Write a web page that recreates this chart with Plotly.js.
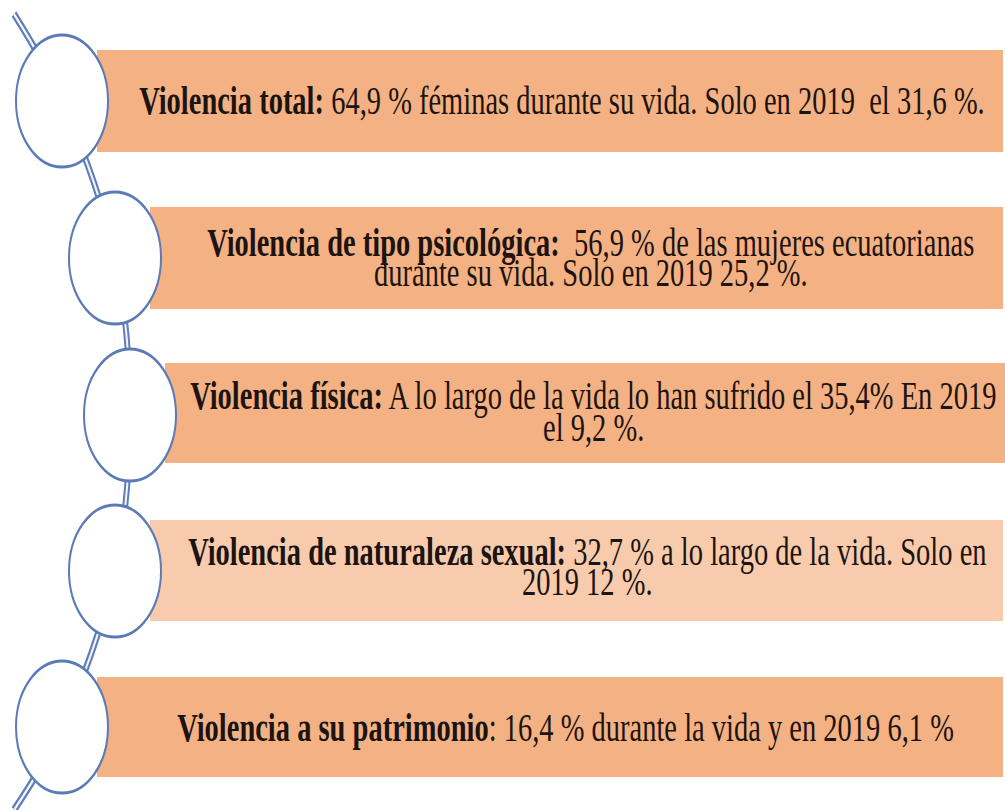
<!DOCTYPE html>
<html>
<head>
<meta charset="utf-8">
<script src="https://cdn.plot.ly/plotly-3.0.1.min.js"></script>
<style>
  html { margin: 0; padding: 0; overflow: hidden; background: #ffffff; }
  body { margin: 0; padding: 0; width: 1005px; height: 810px; background: #ffffff; }
  #chart { width: 1005px; height: 566px; transform: scaleY(1.4311); transform-origin: 0 0; }
</style>
</head>
<body>
<div id="chart"></div>
<script>
// ---- data ----
const categories = [
  'Violencia total',
  'Violencia de tipo psicológica',
  'Violencia física',
  'Violencia de naturaleza sexual',
  'Violencia a su patrimonio'
];
const lifetimePct = [64.9, 56.9, 35.4, 32.7, 16.4];
const pct2019 = [31.6, 25.2, 9.2, 12, 6.1];

// ---- layout helpers (positions in reference pixels) ----
const barTop = [50, 207, 363, 520, 677];
const barBottom = [152, 309, 463, 621, 777];
const barLeft = [97, 150, 165, 150, 97];
const barRight = [1003, 1003, 1005, 1003, 1003];
const barColors = ['#F4B183', '#F4B183', '#F4B183', '#F8CBAD', '#F4B183'];
const circX = [62, 115, 130, 115, 62];
const circY = [101, 258, 415, 571, 727];
const circRx = 46, circRy = 66;
const textX = [562, 591, 593, 587, 565];
const textY = [[101], [242, 273], [395, 427], [551, 582], [728]];

const fmt = v => String(v).replace('.', ',');
const NB = '\u00a0';

function rowLines(i) {
  const c = categories[i], L = fmt(lifetimePct[i]), Y = fmt(pct2019[i]);
  switch (i) {
    case 0: return [`<b>${c}:</b> ${L} % féminas durante su vida. Solo en 2019${NB}${NB}el ${Y} %.`];
    case 1: return [`<b>${c}:</b>${NB}${NB}${L} % de las mujeres ecuatorianas`, `durante su vida. Solo en 2019 ${Y} %.`];
    case 2: return [`<b>${c}:</b> A lo largo de la vida lo han sufrido el ${L}% En 2019`, `el ${Y} %.`];
    case 3: return [`<b>${c}:</b> ${L} % a lo largo de la vida. Solo en`, `2019 ${Y} %.`];
    default: return [`<b>${c}</b>: ${L} % durante la vida y en 2019 ${Y} %`];
  }
}

const shapes = [];
const annotations = [];
categories.forEach((c, i) => {
  shapes.push({
    type: 'rect', xref: 'x', yref: 'y', layer: 'below',
    x0: barLeft[i], x1: barRight[i], y0: barTop[i], y1: barBottom[i],
    fillcolor: barColors[i], line: { width: 0 }
  });
  shapes.push({
    type: 'circle', xref: 'x', yref: 'y', layer: 'above',
    x0: circX[i] - circRx, x1: circX[i] + circRx,
    y0: circY[i] - circRy, y1: circY[i] + circRy,
    fillcolor: '#ffffff', line: { color: '#5B7BB6', width: 2 }
  });
  rowLines(i).forEach((t, k) => {
    annotations.push({
      xref: 'x', yref: 'y', x: textX[i], y: textY[i][k],
      text: t, showarrow: false, xanchor: 'center', yanchor: 'middle',
      font: { family: '"Liberation Serif", "Times New Roman", serif', size: 28.5, color: '#1c1410' }
    });
  });
});

// connector path through circle centres, extended past the ends
const pathX = [14].concat(circX, [14]);
const pathY = [14].concat(circY, [810]);

const traces = [
  { x: pathX, y: pathY, mode: 'lines', line: { shape: 'spline', smoothing: 1, color: '#5F7EB8', width: 6 }, hoverinfo: 'skip' },
  { x: pathX, y: pathY, mode: 'lines', line: { shape: 'spline', smoothing: 1, color: '#F2F5FB', width: 2 }, hoverinfo: 'skip' }
];

const layout = {
  width: 1005, height: 566,
  margin: { l: 0, r: 0, t: 0, b: 0 },
  paper_bgcolor: '#ffffff', plot_bgcolor: '#ffffff',
  showlegend: false,
  xaxis: { range: [0, 1005], visible: false, fixedrange: true },
  yaxis: { range: [810, 0], visible: false, fixedrange: true },
  shapes: shapes,
  annotations: annotations
};

Plotly.newPlot('chart', traces, layout, { staticPlot: true, displayModeBar: false });
</script>
</body>
</html>
